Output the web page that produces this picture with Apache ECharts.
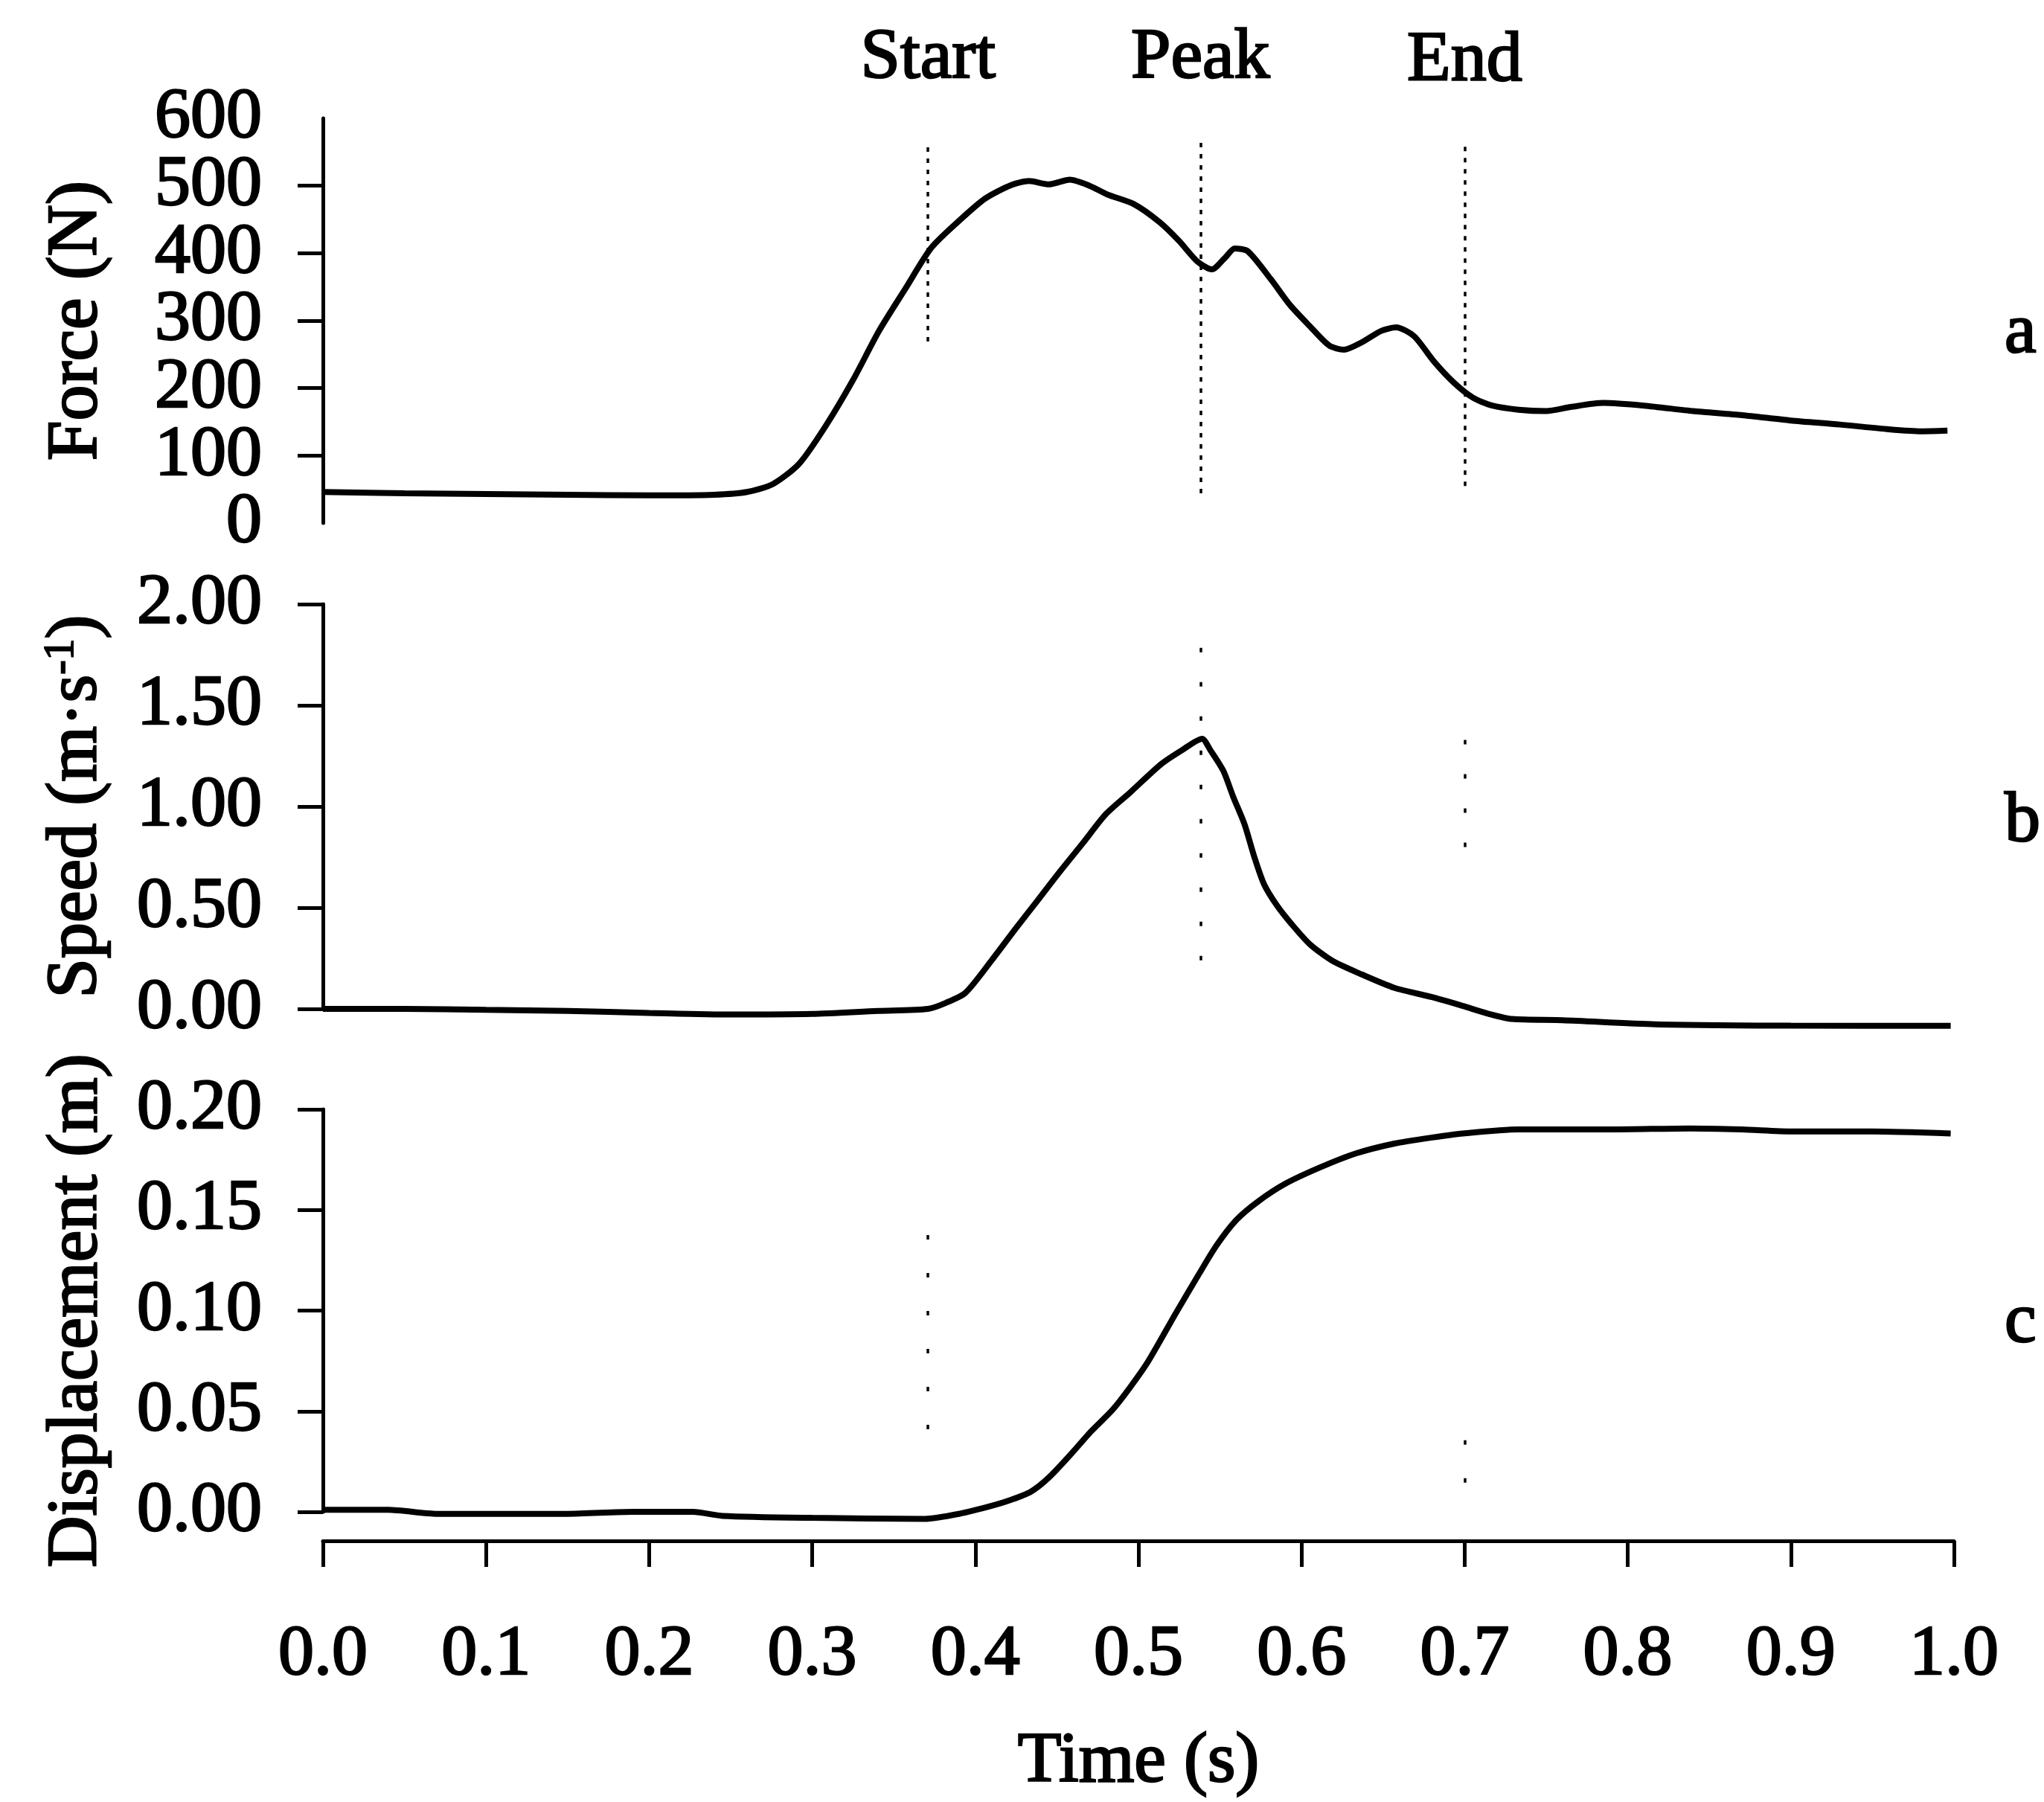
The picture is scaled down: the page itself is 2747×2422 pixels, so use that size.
<!DOCTYPE html>
<html><head><meta charset="utf-8">
<script src="https://cdn.jsdelivr.net/npm/echarts@6/dist/echarts.min.js"></script>
<style>html,body{margin:0;padding:0;background:#fff}#c{width:2747px;height:2422px}</style>
</head><body><div id="c"></div>
<script>
// ---- data ----
const forceT = [0.000,0.050,0.100,0.150,0.200,0.240,0.260,0.276,0.292,0.308,0.325,0.341,0.357,0.373,0.390,0.406,0.422,0.433,0.445,0.458,0.470,0.481,0.497,0.513,0.525,0.536,0.545,0.553,0.559,0.567,0.581,0.593,0.605,0.617,0.626,0.637,0.649,0.658,0.669,0.681,0.693,0.705,0.717,0.733,0.750,0.765,0.785,0.810,0.840,0.870,0.900,0.930,0.960,0.980,0.996];
const forceV = [46,44,43,42,41,42,46,58,88,143,212,285,347,408,448,481,501,507,502,509,500,487,473,446,418,388,376,393,407,403,362,323,292,263,257,268,285,290,277,240,209,186,174,168,166,172,178,174,166,160,152,146,139,136,137];

const speedT = [0.000,0.050,0.100,0.150,0.200,0.250,0.300,0.340,0.371,0.382,0.394,0.410,0.425,0.438,0.452,0.466,0.480,0.495,0.514,0.527,0.539,0.544,0.552,0.558,0.565,0.571,0.577,0.585,0.594,0.605,0.619,0.637,0.657,0.680,0.699,0.715,0.729,0.760,0.817,0.900,0.998];
const speedV = [0.00,0.00,-0.005,-0.010,-0.020,-0.028,-0.025,-0.010,0.000,0.030,0.080,0.240,0.400,0.534,0.680,0.820,0.962,1.070,1.210,1.280,1.335,1.280,1.177,1.050,0.913,0.752,0.616,0.510,0.418,0.320,0.237,0.170,0.104,0.058,0.014,-0.025,-0.050,-0.056,-0.076,-0.083,-0.084];

const dispT = [0.000,0.040,0.070,0.150,0.190,0.227,0.245,0.300,0.369,0.390,0.410,0.422,0.434,0.445,0.459,0.471,0.484,0.495,0.506,0.523,0.537,0.548,0.560,0.573,0.590,0.611,0.633,0.657,0.680,0.699,0.733,0.790,0.838,0.870,0.901,0.950,0.998];
const dispV = [0.001,0.001,-0.001,-0.001,0.000,0.000,-0.002,-0.003,-0.0035,-0.001,0.003,0.006,0.010,0.017,0.029,0.040,0.0506,0.062,0.0748,0.0988,0.118,0.1325,0.145,0.154,0.163,0.171,0.178,0.183,0.186,0.188,0.190,0.190,0.1905,0.190,0.189,0.189,0.188];

const xTicks = {min:0, max:1, step:0.1};
const forceTicks = {min:0, max:600, step:100};
const speedTicks = {min:0, max:2, step:0.5};
const dispTicks = {min:0, max:0.2, step:0.05};

const eventNames = ['Start','Peak','End'];
const eventTimes = [0.371, 0.538, 0.700];
const forceMarkLo = [269, 44, 55];
const forceMarkHi = [565, 565, 561];
const speedMarkLo = [null, 0.24, 0.80];
const speedMarkHi = [null, 1.93, 1.43];
const dispMarkLo = [0.041, 0.017, 0.0145];
const dispMarkHi = [0.154, 0.2025, 0.0446];

const panelLabels = ['a','b','c'];
const yNames = ['Force (N)', 'Speed (m·s{sup|-1})', 'Displacement (m)'];
const xName = 'Time (s)';

// ---- chart ----
const FONT = '"Liberation Serif", "Times New Roman", serif';
const FS = 96;
const TXT = {fontSize:FS, fontFamily:FONT, color:'#000', textBorderColor:'#000', textBorderWidth:2.5};
const zip = (a,b) => a.map((v,i)=>[v,b[i]]);
function marks(lo, hi){
  return eventTimes.map((t,i)=> lo[i]==null ? null :
    [{coord:[t, lo[i]], name:eventNames[i]}, {coord:[t, hi[i]]}]).filter(Boolean);
}
const grids = [
  {left:434, top:159, width:2192, height:544, outerBoundsMode:'none'},
  {left:434, top:812, width:2192, height:544, outerBoundsMode:'none'},
  {left:434, top:1491, width:2192, height:541, outerBoundsMode:'none'}
];
const ticks = [forceTicks, speedTicks, dispTicks];
const decs = [0,2,2];
const yAxes = ticks.map((tk,i)=>({
  gridIndex:i, type:'value', min:tk.min, max:tk.max, interval:tk.step,
  axisLine:{show:true, lineStyle:{color:'#000', width:5}},
  axisTick:{show:true, inside:false, length:34, lineStyle:{color:'#000', width:5}},
  axisLabel:Object.assign({show:true, margin:82, hideOverlap:false,
    showMinLabel: i===0 ? false : true, showMaxLabel: i===0 ? false : true,
    formatter:v=>v.toFixed(decs[i])}, TXT),
  splitLine:{show:false},
  name:yNames[i], nameLocation:'middle', nameGap:282, nameRotate:90, nameMoveOverlap:false,
  nameTextStyle:Object.assign({
    rich:{sup:{fontSize:58, fontFamily:FONT, color:'#000', textBorderColor:'#000', textBorderWidth:2, verticalAlign:'top', padding:[0,0,40,0]}}}, TXT)
}));
// companion axis on the force panel that carries only its end labels (0 and 600)
yAxes.push({
  gridIndex:0, type:'value', min:forceTicks.min, max:forceTicks.max, interval:forceTicks.step,
  position:'left',
  axisLine:{show:false}, axisTick:{show:false}, splitLine:{show:false},
  axisLabel:Object.assign({show:true, margin:82, hideOverlap:false, showMinLabel:true, showMaxLabel:true,
    formatter:v=> (v===forceTicks.min || v===forceTicks.max) ? String(v) : ''}, TXT)
});
const xAxes = [0,1,2].map(i=>({
  gridIndex:i, type:'value', min:xTicks.min, max:xTicks.max, interval:xTicks.step,
  show: i===2, offset: 39,
  axisLine:{show:true, onZero:false, lineStyle:{color:'#000', width:5}},
  axisTick:{show:true, length:35, lineStyle:{color:'#000', width:5}},
  axisLabel:Object.assign({show:true, margin:106, showMinLabel:true, showMaxLabel:true, hideOverlap:false,
    formatter:v=>v.toFixed(1)}, TXT),
  splitLine:{show:false},
  name: i===2 ? xName : '', nameLocation:'middle', nameGap:250, nameMoveOverlap:false,
  nameTextStyle:Object.assign({}, TXT)
}));
function lineSeries(i, data, lo, hi, dash, withLabel){
  return {
    type:'line', xAxisIndex:i, yAxisIndex:i, data, showSymbol:false, symbol:'none',
    smooth:0.25, clip:false, silent:true,
    lineStyle:{color:'#000', width:8},
    markLine:{
      silent:true, symbol:['none','none'], animation:false,
      lineStyle:{color:'#000', width:3.5, type:dash},
      label:Object.assign({show:withLabel, position:'end', distance:64, formatter:p=>p.name}, TXT),
      emphasis:{disabled:true},
      data: marks(lo, hi)
    }
  };
}
const chart = echarts.init(document.getElementById('c'), null, {renderer:'canvas'});
chart.setOption({
  backgroundColor:'#fff',
  animation:false,
  grid: grids,
  xAxis: xAxes,
  yAxis: yAxes,
  title: panelLabels.map((t,i)=>({text:t, left:2694, top:[400,1057,1730][i], padding:0,
    textStyle:Object.assign({fontWeight:'normal'}, TXT)})),
  series: [
    lineSeries(0, zip(forceT, forceV), forceMarkLo, forceMarkHi, [6,9], true),
    lineSeries(1, zip(speedT, speedV), speedMarkLo, speedMarkHi, [6,40], false),
    lineSeries(2, zip(dispT, dispV), dispMarkLo, dispMarkHi, [6,45], false)
  ]
});
</script>
</body></html>
